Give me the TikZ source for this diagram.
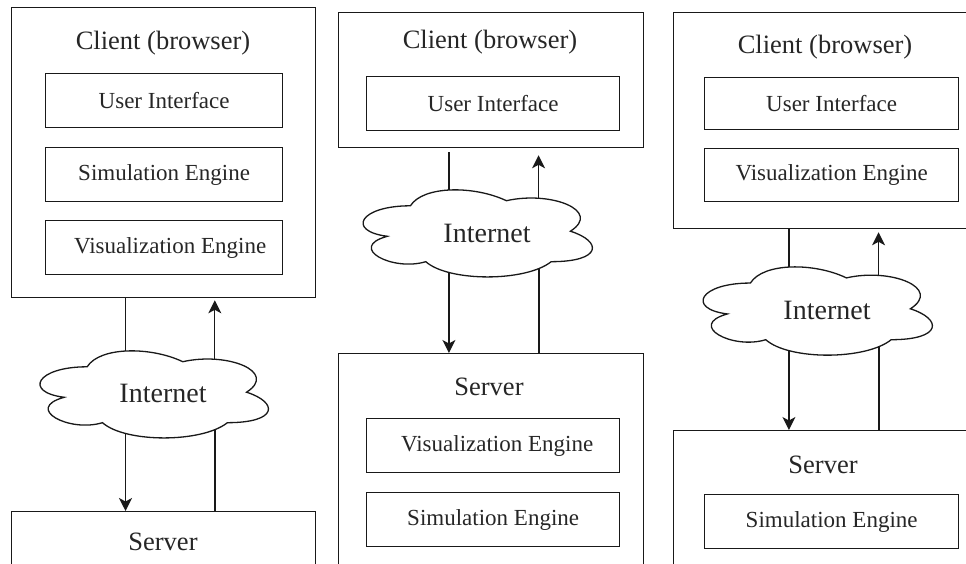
\documentclass[tikz,border=0pt]{standalone}
\usepackage{fontspec}
\setmainfont{Liberation Serif}
\usetikzlibrary{arrows.meta}
\newcommand{\netcloud}[5]{%
  \begin{scope}[shift={(#2,#3)}, x=#4pt, y=-#5pt]
    \draw[cloudline] (0.25,0.25) .. controls (0.05,0.25) and (0,0.5) .. (0.16,0.55)
      .. controls (0,0.66) and (0.18,0.9) .. (0.31,0.8)
      .. controls (0.4,1) and (0.7,1) .. (0.8,0.8) coordinate[pos=0.23] (#1bl) coordinate[pos=0.87] (#1br)
      .. controls (1,0.8) and (1,0.6) .. (0.875,0.5)
      .. controls (1,0.3) and (0.8,0.1) .. (0.625,0.2) coordinate[pos=0.76] (#1tr)
      .. controls (0.5,0.05) and (0.3,0.05) .. (0.25,0.25) coordinate[pos=0.52] (#1tl) -- cycle;
  \end{scope}}
\begin{document}
\begin{tikzpicture}[x=1pt,y=-1pt,
  outerbox/.style={draw=black!90,line width=1.3pt,anchor=north west,inner sep=0pt},
  innerbox/.style={draw=black!90,line width=1.3pt,anchor=north west,inner sep=0pt,text=black!85,font=\fontsize{23}{26}\selectfont},
  titletext/.style={inner sep=0pt,text=black!85,font=\fontsize{26.5}{30}\selectfont},
  nettext/.style={inner sep=0pt,text=black!85,font=\fontsize{28}{32}\selectfont},
  link/.style={draw=black!90,line width=1.4pt},
  arr/.style={link,-{Stealth[length=13pt,width=13pt,inset=3.5pt]}},
  cloudline/.style={draw=black!90,line width=1.3pt,fill=white}]
\useasboundingbox (0,0) rectangle (966,564);
\clip (0,0) rectangle (966,564);
% ---------- panel 1 ----------
\node[outerbox,minimum width=304pt,minimum height=290pt] (client1) at (11,7) {};
\node[titletext] (client1t) at (163,43) {Client (browser)};
\node[innerbox,minimum width=237pt,minimum height=54pt] (ui1) at (45,73) {User Interface};
\node[innerbox,minimum width=237pt,minimum height=54pt] (sim1) at (45,147) {Simulation Engine};
\node[innerbox,minimum width=237pt,minimum height=54pt] (vis1) at (45,220) {\hspace{12pt}Visualization Engine};
\node[outerbox,minimum width=304pt,minimum height=120pt] (server1) at (11,511) {};
\node[titletext] (server1t) at (163,542) {Server};
\netcloud{c1}{23.4}{341.4}{255}{101.6}
\node[nettext] (net1) at (163,393) {Internet};
\draw[link] (client1.south -| c1tl) -- (c1tl);
\draw[arr,shorten >=2pt] (c1tr) -- (c1tr |- client1.south);
\draw[arr] (c1bl) -- (c1bl |- server1.north);
\draw[link] (server1.north -| c1br) -- (c1br);
% ---------- panel 2 ----------
\node[outerbox,minimum width=305pt,minimum height=135pt] (client2) at (338,12) {};
\node[titletext] (client2t) at (490,42) {Client (browser)};
\node[innerbox,minimum width=253pt,minimum height=54pt] (ui2) at (366,76) {User Interface};
\node[outerbox,minimum width=305pt,minimum height=260pt] (server2) at (338,353) {};
\node[titletext] (server2t) at (489,387) {Server};
\node[innerbox,minimum width=253pt,minimum height=54pt] (vis2) at (366,418) {\hspace{8pt}Visualization Engine};
\node[innerbox,minimum width=253pt,minimum height=54pt] (sim2) at (366,492) {Simulation Engine};
\netcloud{c2}{346.4}{180.4}{256}{101.6}
\node[nettext] (net2) at (487,233) {Internet};
\draw[link,shorten <=4pt] (client2.south -| c2tl) -- (c2tl);
\draw[arr,shorten >=7pt] (c2tr) -- (c2tr |- client2.south);
\draw[arr] (c2bl) -- (c2bl |- server2.north);
\draw[link] (server2.north -| c2br) -- (c2br);
% ---------- panel 3 ----------
\node[outerbox,minimum width=400pt,minimum height=216pt] (client3) at (673,12) {};
\node[titletext] (client3t) at (825,47) {Client (browser)};
\node[innerbox,minimum width=254pt,minimum height=52pt] (ui3) at (704,77) {User Interface};
\node[innerbox,minimum width=254pt,minimum height=53pt] (vis3) at (704,148) {Visualization Engine};
\node[outerbox,minimum width=400pt,minimum height=200pt] (server3) at (673,430) {};
\node[titletext] (server3t) at (823,465) {Server};
\node[innerbox,minimum width=254pt,minimum height=54pt] (sim3) at (704,494) {Simulation Engine};
\netcloud{c3}{686.4}{257.3}{256}{103}
\node[nettext] (net3) at (827,310) {Internet};
\draw[link] (client3.south -| c3tl) -- (c3tl);
\draw[arr,shorten >=3pt] (c3tr) -- (c3tr |- client3.south);
\draw[arr] (c3bl) -- (c3bl |- server3.north);
\draw[link] (server3.north -| c3br) -- (c3br);
\end{tikzpicture}
\end{document}
